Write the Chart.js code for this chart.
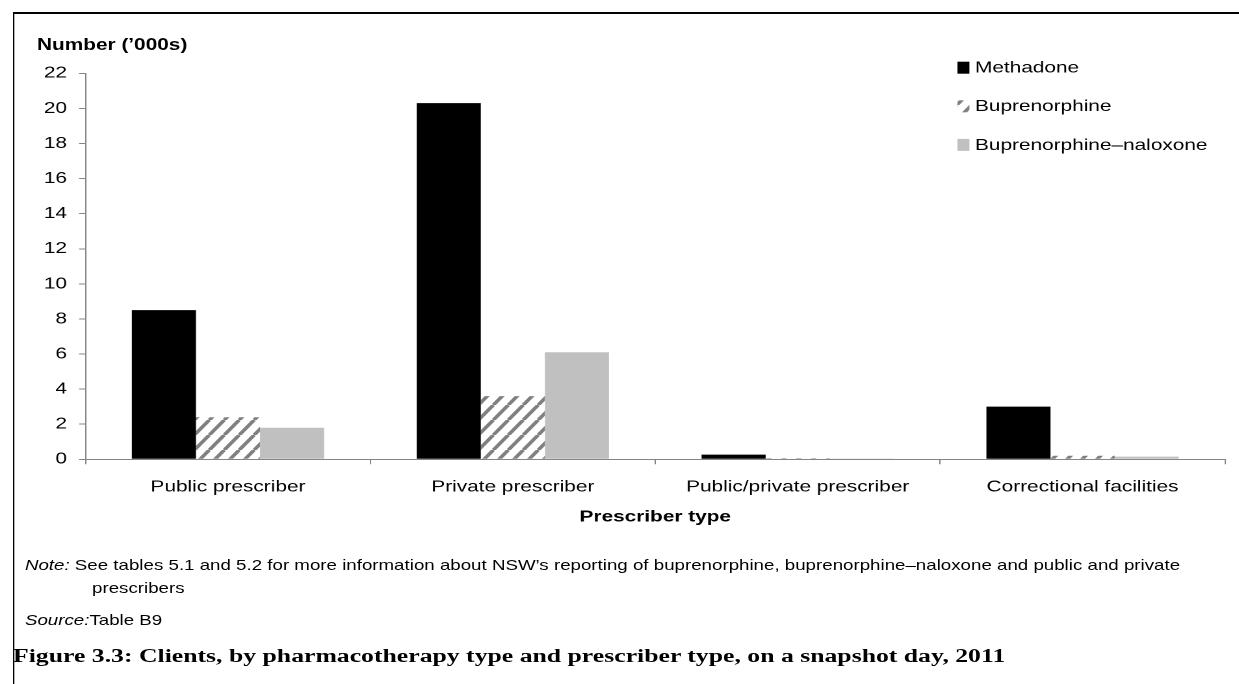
<!DOCTYPE html>
<html>
<head>
<meta charset="utf-8">
<script src="https://cdn.jsdelivr.net/npm/chart.js@4.4.1/dist/chart.umd.min.js"></script>
<style>
  html, body { margin:0; padding:0; background:#fff; }
  body { width:1239px; height:684px; overflow:hidden; position:relative; }
  #wrap { position:absolute; left:0; top:0; width:953px; height:684px; transform:scaleX(1.3); transform-origin:0 0; }
  #frame { position:absolute; left:9.6px; top:12px; width:1000px; height:700px; border-left:1.6px solid #000; border-top:2px solid #000; }
  #cv { position:absolute; left:0; top:0; }
  .t { position:absolute; white-space:nowrap; font-family:"Liberation Sans", Arial, sans-serif; color:#000; line-height:20px; }
</style>
</head>
<body>
<div id="wrap">
  <div id="frame"></div>
  <canvas id="cv" width="953" height="540"></canvas>
  <div class="t" style="left:28.5px; top:35px; font-size:16px; font-weight:bold;">Number (’000s)</div>
  <div class="t" style="left:19.2px; top:555px; font-size:14.4px;"><i>Note:</i> See tables 5.1 and 5.2 for more information about NSW’s reporting of buprenorphine, buprenorphine–naloxone and public and private</div>
  <div class="t" style="left:70.8px; top:578px; font-size:14.4px;">prescribers</div>
  <div class="t" style="left:19.2px; top:610px; font-size:14.4px;"><i>Source:</i>Table B9</div>
  <div class="t" style="left:10px; top:644px; font-size:19.8px; font-weight:bold; font-family:'Liberation Serif', 'Times New Roman', serif; line-height:22px;">Figure 3.3: Clients, by pharmacotherapy type and prescriber type, on a snapshot day, 2011</div>
</div>
<script>
// ---- data ----
const categories = ['Public prescriber', 'Private prescriber', 'Public/private prescriber', 'Correctional facilities'];
const seriesNames = ['Methadone', 'Buprenorphine', 'Buprenorphine–naloxone'];
const methadone = [8.5, 20.3, 0.27, 3.0];
const buprenorphine = [2.4, 3.6, 0.06, 0.2];
const buprenorphineNaloxone = [1.8, 6.1, 0.02, 0.15];
const yTickValues = [0, 2, 4, 6, 8, 10, 12, 14, 16, 18, 20, 22];
const xTitle = 'Prescriber type';

// ---- styles ----
const FONT = '"Liberation Sans", Arial, sans-serif';
const AXIS_COLOR = '#858585';

function makeHatch() {
  const c = document.createElement('canvas');
  c.width = 23; c.height = 30;
  const g = c.getContext('2d');
  g.fillStyle = '#ffffff';
  g.fillRect(0, 0, 23, 30);
  g.strokeStyle = '#808080';
  g.lineWidth = 6.1;
  for (const dx of [-23, 0, 23]) {
    g.beginPath();
    g.moveTo(dx, 30);
    g.lineTo(dx + 23, 0);
    g.stroke();
  }
  const p = g.createPattern(c, 'repeat');
  p.setTransform(new DOMMatrix([0.5, 0, 0, 0.5, 0, 0]));
  return p;
}
const hatch = makeHatch();

const insideLegend = {
  id: 'insideLegend',
  afterDatasetsDraw(chart) {
    const ctx = chart.ctx;
    chart.data.datasets.forEach((ds, i) => {
      const y = 67.7 + i * 38.6;
      ctx.save();
      ctx.fillStyle = ds.backgroundColor;
      ctx.fillRect(736.5, y - 6, 9.2, 12);
      ctx.fillStyle = '#000';
      ctx.font = '16px ' + FONT;
      ctx.textBaseline = 'middle';
      ctx.textAlign = 'left';
      ctx.fillText(ds.label, 750, y + 0.5);
      ctx.restore();
    });
  }
};

new Chart(document.getElementById('cv'), {
  type: 'bar',
  data: {
    labels: categories,
    datasets: [
      { label: seriesNames[0], data: methadone, backgroundColor: '#000000' },
      { label: seriesNames[1], data: buprenorphine, backgroundColor: hatch },
      { label: seriesNames[2], data: buprenorphineNaloxone, backgroundColor: '#c0c0c0' }
    ]
  },
  options: {
    responsive: false,
    devicePixelRatio: 2,
    animation: false,
    layout: { padding: { left: 0, top: 73.3, right: 10.7, bottom: 0 } },
    datasets: { bar: { categoryPercentage: 0.675, barPercentage: 1.0, borderWidth: 0 } },
    plugins: { legend: { display: false }, tooltip: { enabled: false }, title: { display: false } },
    scales: {
      x: {
        grid: { offset: true, drawOnChartArea: false, drawTicks: true, tickLength: 5, color: AXIS_COLOR },
        border: { display: true, color: AXIS_COLOR, width: 1 },
        ticks: { color: '#000', font: { family: FONT, size: 16 }, padding: 13.1, maxRotation: 0, autoSkip: false },
        title: { display: true, text: xTitle, color: '#000', font: { family: FONT, size: 16, weight: 'bold' }, padding: { top: 0, bottom: 13.4 } },
        afterFit(scale) { scale.height = 80.7; }
      },
      y: {
        min: 0, max: 22,
        afterBuildTicks(scale) { scale.ticks = yTickValues.map(v => ({ value: v })); },
        grid: { drawOnChartArea: false, drawTicks: true, tickLength: 5, color: AXIS_COLOR },
        border: { display: true, color: AXIS_COLOR, width: 1 },
        ticks: { color: '#000', font: { family: FONT, size: 16 }, padding: 9.3 },
        afterFit(scale) { scale.width = 65.8; }
      }
    }
  },
  plugins: [insideLegend]
});
</script>
</body>
</html>
